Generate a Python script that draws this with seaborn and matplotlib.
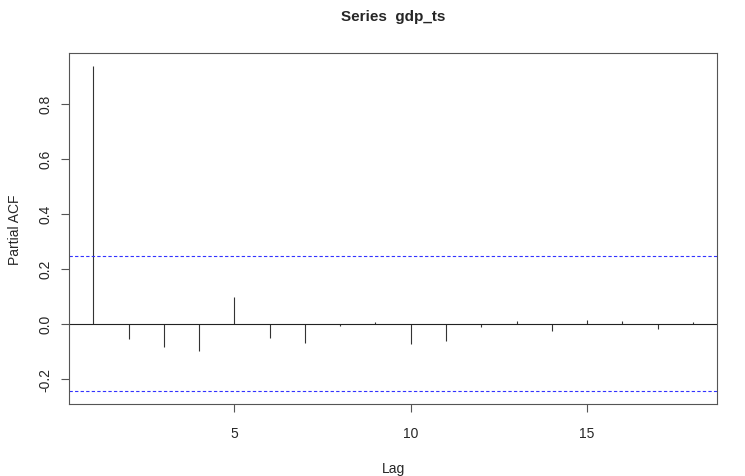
import matplotlib
matplotlib.use("Agg")
import matplotlib.pyplot as plt
import seaborn as sns

# PACF values
lags = list(range(1, 19))
pacf_vals = [0.938, -0.057, -0.085, -0.099, 0.097, -0.052, -0.071, -0.008, 0.008,
             -0.072, -0.064, -0.012, 0.011, -0.027, 0.015, 0.011, -0.021, 0.006]
conf_limit = 0.245
x_ticks = [5, 10, 15]
y_ticks = [-0.2, 0.0, 0.2, 0.4, 0.6, 0.8]

sns.set_theme(style="ticks")
plt.rcParams["font.family"] = ["Liberation Sans", "DejaVu Sans"]

fig = plt.figure(figsize=(7.45, 4.77), dpi=100)
ax = fig.add_axes([0.093, 0.151, 0.8694, 0.7358])

# spikes, R style
ax.vlines(lags, 0, pacf_vals, color="#333333", linewidth=0.8)
ax.axhline(0, color="#222222", linewidth=0.8)
for c in (conf_limit, -conf_limit):
    ax.axhline(c, color="#3333ff", linestyle=(0, (3, 2)), linewidth=0.8)

ax.set_xlim(0.32, 18.68)
ax.set_ylim(-0.292, 0.985)
ax.set_xticks(x_ticks)
ax.set_xticklabels([str(t) for t in x_ticks])
ax.set_yticks(y_ticks)
ax.set_yticklabels([f"{t:.1f}" for t in y_ticks], rotation=90, va="center")
ax.tick_params(axis="both", labelsize=10, length=6, width=0.8, color="#555555",
               direction="out", pad=6)
ax.tick_params(axis="x", pad=10)

for s in ax.spines.values():
    s.set_color("#555555")
    s.set_linewidth(0.8)

ax.set_xlabel("Lag", fontsize=10, labelpad=15)
ax.set_ylabel("Partial ACF", fontsize=10, labelpad=12)
ax.set_title("Series  gdp_ts", fontsize=11, fontweight="bold", pad=24)

fig.savefig("out.png", dpi=100, facecolor="white")
